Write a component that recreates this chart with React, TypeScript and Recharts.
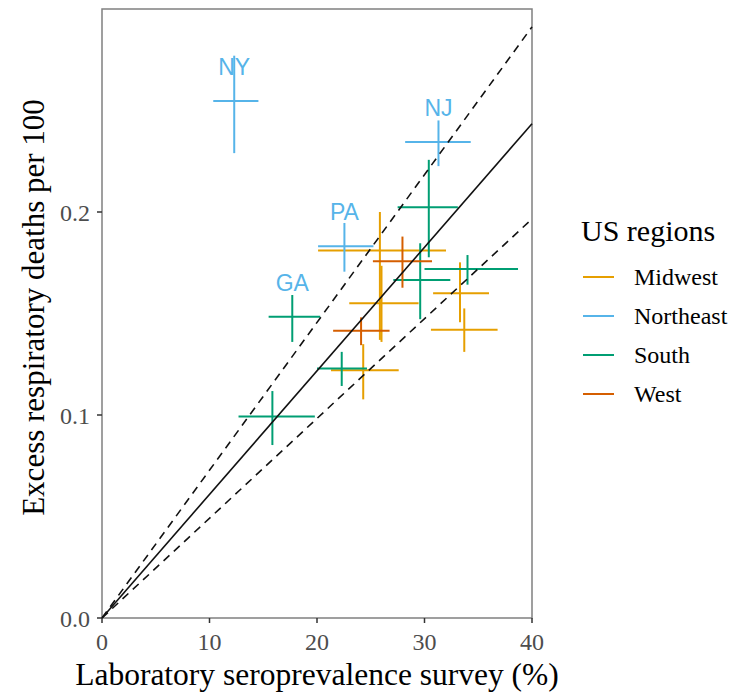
import React from "react";
import {
  ComposedChart,
  Scatter,
  ErrorBar,
  XAxis,
  YAxis,
  ReferenceLine,
  ReferenceArea,
  Legend,
  Label,
} from "recharts";

// regions and their colours (legend order)
const regions = ["Midwest", "Northeast", "South", "West"];
const regionColors = ["#E69F00", "#56B4E9", "#009E73", "#D55E00"];

// one row per state: seroprevalence (%) with interval, deaths per 100 with interval
const midwest = [
  { label: "", x: 25.85, xLo: 20.1, xHi: 32.0, y: 0.181, yLo: 0.137, yHi: 0.2 },
  { label: "", x: 26.0, xLo: 23.0, xHi: 29.45, y: 0.155, yLo: 0.136, yHi: 0.1735 },
  { label: "", x: 33.3, xLo: 30.8, xHi: 36.0, y: 0.16, yLo: 0.1457, yHi: 0.1752 },
  { label: "", x: 33.7, xLo: 30.6, xHi: 36.8, y: 0.142, yLo: 0.1311, yHi: 0.1525 },
  { label: "", x: 24.3, xLo: 21.3, xHi: 27.6, y: 0.122, yLo: 0.1077, yHi: 0.1349 },
];
const northeast = [
  { label: "NY", x: 12.3, xLo: 10.35, xHi: 14.55, y: 0.2547, yLo: 0.229, yHi: 0.277 },
  { label: "NJ", x: 31.3, xLo: 28.2, xHi: 34.3, y: 0.2345, yLo: 0.2226, yHi: 0.2451 },
  { label: "PA", x: 22.55, xLo: 20.1, xHi: 25.25, y: 0.1831, yLo: 0.1706, yHi: 0.1946 },
];
const south = [
  { label: "GA", x: 17.7, xLo: 15.5, xHi: 20.3, y: 0.1484, yLo: 0.136, yHi: 0.1591 },
  { label: "", x: 30.4, xLo: 27.5, xHi: 33.1, y: 0.2024, yLo: 0.1777, yHi: 0.2257 },
  { label: "", x: 29.6, xLo: 27.1, xHi: 32.4, y: 0.1665, yLo: 0.1472, yHi: 0.1846 },
  { label: "", x: 34.0, xLo: 30.0, xHi: 38.7, y: 0.1719, yLo: 0.1642, yHi: 0.1788 },
  { label: "", x: 22.3, xLo: 20.0, xHi: 24.65, y: 0.1229, yLo: 0.1143, yHi: 0.1311 },
  { label: "", x: 15.85, xLo: 12.7, xHi: 19.8, y: 0.0992, yLo: 0.0852, yHi: 0.1118 },
];
const west = [
  { label: "", x: 27.95, xLo: 25.2, xHi: 30.7, y: 0.1757, yLo: 0.1627, yHi: 0.1879 },
  { label: "", x: 24.1, xLo: 21.5, xHi: 26.75, y: 0.1415, yLo: 0.1344, yHi: 0.1481 },
];

// fitted line through the origin and its band: value at x = 40
const fitEndX = 40;
const fitMid = 0.2435;
const fitHigh = 0.2912;
const fitLow = 0.1966;

const xTicks = [0, 10, 20, 30, 40];
const yTicks = [0, 0.1, 0.2];

const serif = "'Liberation Serif', 'Times New Roman', serif";
const sans = "'Liberation Sans', Arial, sans-serif";

const withErrors = (rows: any[]) =>
  rows.map((r) => ({
    ...r,
    xErr: [r.x - r.xLo, r.xHi - r.x],
    yErr: [r.y - r.yLo, r.yHi - r.y],
  }));

const series = [midwest, northeast, south, west].map(withErrors);

// no point marker, just the state name above the cross
const StateLabel = (props: any) => {
  const { cx, cy, payload } = props;
  if (!payload || !payload.label) return <g />;
  return (
    <text
      x={cx}
      y={cy - 34}
      textAnchor="middle"
      dominantBaseline="central"
      fontFamily={sans}
      fontSize={23}
      fill="#56B4E9"
    >
      {payload.label}
    </text>
  );
};

const RegionLegend = () => (
  <svg width={159} height={210}>
    <text x={6} y={36} fontFamily={serif} fontSize={30} fill="#000">
      US regions
    </text>
    {regions.map((r, i) => (
      <g key={r}>
        <line
          x1={8}
          x2={39}
          y1={72 + i * 39}
          y2={72 + i * 39}
          stroke={regionColors[i]}
          strokeWidth={2}
        />
        <text x={59} y={80 + i * 39} fontFamily={serif} fontSize={24} fill="#000">
          {r}
        </text>
      </g>
    ))}
  </svg>
);

const App = () => {
  return (
    <div style={{ position: "absolute", left: 0, top: 0, width: 734, height: 697 }}>
      <ComposedChart
        width={734}
        height={697}
        margin={{ top: 9, right: 202, bottom: 0, left: 0 }}
      >
        <XAxis
          type="number"
          dataKey="x"
          domain={[0, 40]}
          ticks={xTicks}
          allowDataOverflow
          height={79}
          axisLine={false}
          tickLine={{ stroke: "#333", strokeWidth: 1.5 }}
          tickSize={5}
          tickMargin={10}
          tick={{ fontFamily: serif, fontSize: 24, fill: "#4d4d4d" }}
        >
          <Label
            content={(p: any) => (
              <text
                x={p.viewBox.x + p.viewBox.width / 2}
                y={685}
                textAnchor="middle"
                fontFamily={serif}
                fontSize={31.5}
                fill="#000"
              >
                Laboratory seroprevalence survey (%)
              </text>
            )}
          />
        </XAxis>
        <YAxis
          type="number"
          dataKey="y"
          domain={[0, 0.3]}
          ticks={yTicks}
          allowDataOverflow
          width={102}
          axisLine={false}
          tickLine={{ stroke: "#333", strokeWidth: 1.5 }}
          tickSize={5}
          tickMargin={7}
          tickFormatter={(v: number) => v.toFixed(1)}
          tick={{ fontFamily: serif, fontSize: 24, fill: "#4d4d4d", dy: "0.56em" }}
        >
          <Label
            content={(p: any) => {
              const cy = 307.5;
              return (
                <text
                  x={44}
                  y={cy}
                  transform={`rotate(-90, 44, ${cy})`}
                  textAnchor="middle"
                  fontFamily={serif}
                  fontSize={31}
                  fill="#000"
                >
                  Excess respiratory deaths per 100
                </text>
              );
            }}
          />
        </YAxis>
        <ReferenceArea
          x1={0}
          x2={40}
          y1={0}
          y2={0.3}
          fill="none"
          stroke="#808080"
          strokeWidth={1.5}
        />
        {series.map((rows, i) => (
          <Scatter
            key={regions[i]}
            name={regions[i]}
            data={rows}
            fill={regionColors[i]}
            shape={StateLabel}
            legendType="line"
            isAnimationActive={false}
          >
            <ErrorBar
              dataKey="xErr"
              direction="x"
              width={0}
              stroke={regionColors[i]}
              strokeWidth={2}
              isAnimationActive={false}
            />
            <ErrorBar
              dataKey="yErr"
              direction="y"
              width={0}
              stroke={regionColors[i]}
              strokeWidth={2}
              isAnimationActive={false}
            />
          </Scatter>
        ))}
        <ReferenceLine
          segment={[{ x: 0, y: 0 }, { x: fitEndX, y: fitMid }]}
          stroke="#111"
          strokeWidth={1.6}
        />
        <ReferenceLine
          segment={[{ x: 0, y: 0 }, { x: fitEndX, y: fitHigh }]}
          stroke="#111"
          strokeWidth={1.6}
          strokeDasharray="8 6"
        />
        <ReferenceLine
          segment={[{ x: 0, y: 0 }, { x: fitEndX, y: fitLow }]}
          stroke="#111"
          strokeWidth={1.6}
          strokeDasharray="8 6"
        />
        <Legend
          layout="vertical"
          align="center"
          verticalAlign="middle"
          wrapperStyle={{ left: 575, top: 205, width: 159, height: 210 }}
          content={() => <RegionLegend />}
        />
      </ComposedChart>
    </div>
  );
};

export default App;
